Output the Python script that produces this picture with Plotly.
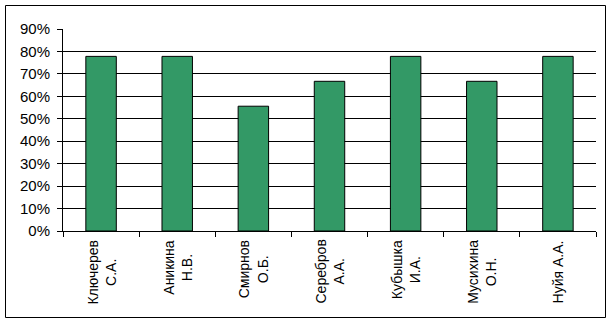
import plotly.graph_objects as go

names = ["Ключерев<br>С.А.", "Аникина<br>Н.В.", "Смирнов<br>О.Б.", "Серебров<br>А.А.",
         "Кубышка<br>И.А.", "Мусихина<br>О.Н.", "Нуйя А.А."]
values = [0.778, 0.778, 0.556, 0.667, 0.778, 0.667, 0.778]
y_ticks = [0, 0.1, 0.2, 0.3, 0.4, 0.5, 0.6, 0.7, 0.8, 0.9]

FONT = "Liberation Sans, Arial, sans-serif"
L, R, T, B = 63, 16, 29, 93
W, H = 612, 324
pw, ph = W - L - R, H - T - B

fig = go.Figure()
fig.add_trace(go.Bar(
    x=names, y=values,
    marker=dict(color="#339966", line=dict(color="black", width=1)),
))

for n in names:
    fig.add_annotation(x=n, xref="x", y=0, yref="paper", yanchor="top", xanchor="center",
                       text=n, textangle=-90, showarrow=False, align="center",
                       font=dict(family=FONT, size=14, color="black"), yshift=-7)

def px2x(X):
    return (X - L) / pw

def px2y(Y):
    return (H - B - Y) / ph

fig.add_shape(type="rect", xref="paper", yref="paper",
              x0=px2x(5.5), x1=px2x(605.5), y0=px2y(317.5), y1=px2y(5.5),
              line=dict(color="black", width=1))

fig.update_layout(
    width=W, height=H,
    margin=dict(l=L, r=R, t=T, b=B),
    paper_bgcolor="white", plot_bgcolor="white",
    bargap=0.6, showlegend=False,
    font=dict(family=FONT, size=14, color="black"),
)
fig.update_xaxes(
    type="category", showticklabels=False, tickson="boundaries",
    ticks="outside", ticklen=5, tickcolor="black", tickwidth=1,
    showline=True, linecolor="black", linewidth=1, showgrid=False,
)
fig.update_yaxes(
    range=[0, 0.9], tickvals=y_ticks, tickformat=".0%",
    ticks="outside", ticklen=5, tickcolor="black", tickwidth=1,
    showline=True, linecolor="black", linewidth=1,
    showgrid=True, gridcolor="black", gridwidth=1, zeroline=False,
    ticklabelstandoff=4,
    tickfont=dict(family=FONT, size=15, color="black"),
)
fig.write_html("out.html")
